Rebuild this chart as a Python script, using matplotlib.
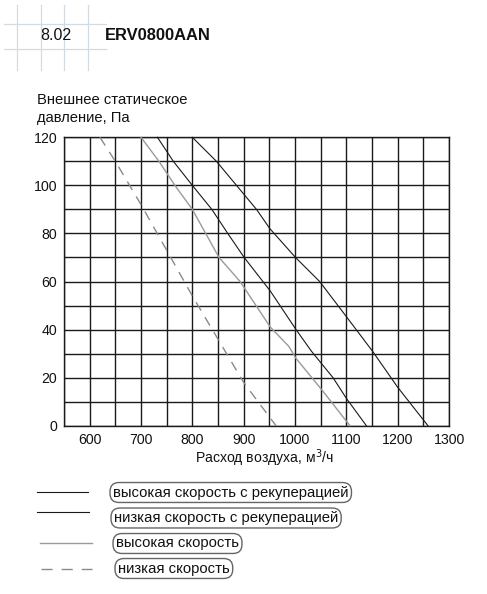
import numpy as np
import matplotlib
matplotlib.use("Agg")
import matplotlib.pyplot as plt
from matplotlib.lines import Line2D

plt.rcParams['font.family'] = ['Liberation Sans', 'DejaVu Sans']
plt.rcParams['lines.scale_dashes'] = False

# -------------------------- DATA ----------------------------
# high speed with recuperation
hi_rec_x = [800, 847, 886, 925, 951, 1001, 1048, 1100, 1151, 1200, 1259]
hi_rec_y = [120, 110, 100, 90, 82, 70, 60, 45.4, 31, 16, 0]
# low speed with recuperation
lo_rec_x = [732, 763, 800, 838, 869, 901, 952, 1002, 1032, 1074, 1100, 1139]
lo_rec_y = [120, 110, 100, 90, 80, 70, 56, 40, 31, 20, 11.4, 0]
# high speed
hi_x = [700, 735, 766, 800, 852, 893, 952, 988, 1002, 1052, 1107]
hi_y = [120, 110, 100, 90, 70, 60, 41, 33, 28, 15, 0]
# low speed
lo_x = [620, 650, 700, 750, 800, 850, 900, 963]
lo_y = [120, 110, 92, 73, 54, 36, 18, 0]

x_ticks = [600, 700, 800, 900, 1000, 1100, 1200, 1300]
y_ticks = [0, 20, 40, 60, 80, 100, 120]

legend_labels = ["высокая скорость с рекуперацией",
                 "низкая скорость с рекуперацией",
                 "высокая скорость",
                 "низкая скорость"]

BLACK = "#1a1a1a"
GREY = "#9a9a9a"
GREY_DASH = "#8a8a8a"
DECO = "#d3dbe2"

# -------------------------- FIGURE ----------------------------
W, H = 487, 594
fig = plt.figure(figsize=(W / 100, H / 100), dpi=100)

# overlay in pixel coordinates for header, titles and legend
ov = fig.add_axes([0, 0, 1, 1])
ov.set_xlim(0, W)
ov.set_ylim(H, 0)
ov.axis("off")

# decorative header grid
for xv in [16.7, 40.7, 64.3, 88.3]:
    ov.plot([xv, xv], [5, 70], color=DECO, lw=0.9)
for yv in [24.3, 49.3]:
    ov.plot([4, 106], [yv, yv], color=DECO, lw=0.9)

ov.text(40, 35.5, "8.02", fontsize=11.5, va="center", ha="left", color="#111")
ov.text(105, 35.5, "ERV0800AAN", fontsize=11.9, fontweight="bold", va="center", ha="left", color="#111")

ov.text(37, 109, "Внешнее статическое\nдавление, Па", fontsize=10.6, va="center", ha="left",
        linespacing=1.3, color="#111")

# -------------------------- CHART ----------------------------
ax = fig.add_axes([64 / W, 1 - 425.7 / H, (449 - 64) / W, (425.7 - 137.3) / H])
ax.set_xlim(550, 1300)
ax.set_ylim(0, 120)
ax.set_xticks(np.arange(550, 1301, 50), minor=True)
ax.set_yticks(np.arange(0, 121, 10), minor=True)
ax.set_xticks(x_ticks)
ax.set_yticks(y_ticks)
ax.grid(True, which="both", color=BLACK, lw=1.0)
ax.set_axisbelow(True)
ax.tick_params(which="both", length=0, labelsize=10.2, pad=5, colors="#111")
for s in ax.spines.values():
    s.set_color(BLACK)
    s.set_linewidth(1.0)

ax.plot(hi_rec_x, hi_rec_y, color=BLACK, lw=0.8, clip_on=False, zorder=3)
ax.plot(lo_rec_x, lo_rec_y, color=BLACK, lw=0.8, clip_on=False, zorder=3)
ax.plot(hi_x, hi_y, color=GREY, lw=1.0, clip_on=False, zorder=3)
ax.plot(lo_x, lo_y, color=GREY_DASH, lw=1.0, dashes=(7, 5.5), clip_on=False, zorder=3)

ax.set_xlabel("Расход воздуха, м$^3$/ч", fontsize=10.1, labelpad=3, color="#111")
ax.xaxis.set_label_coords(0.522, -0.075)

# -------------------------- LEGEND ----------------------------
leg_rows = [
    dict(x=(36.7, 88.3), y=492.3, ty=492.5, tx=113, color=BLACK, lw=0.8, dashes=None),
    dict(x=(37.3, 89.3), y=512.0, ty=518.0, tx=114, color=BLACK, lw=0.8, dashes=None),
    dict(x=(40.0, 92.0), y=542.7, ty=543.5, tx=116, color=GREY, lw=1.0, dashes=None),
    dict(x=(40.7, 91.7), y=569.3, ty=568.5, tx=118, color=GREY_DASH, lw=1.0, dashes=(8, 6.5)),
]
for row, label in zip(leg_rows, legend_labels):
    line = Line2D(list(row["x"]), [row["y"], row["y"]], color=row["color"], lw=row["lw"])
    if row["dashes"]:
        line.set_dashes(row["dashes"])
    ov.add_line(line)
    ov.text(row["tx"], row["ty"], label, fontsize=10.7, va="center", ha="left", color="#111",
            bbox=dict(boxstyle="round,pad=0.2,rounding_size=0.6", fc="white", ec="#666", lw=1.0))

fig.savefig("out.png", dpi=100)
